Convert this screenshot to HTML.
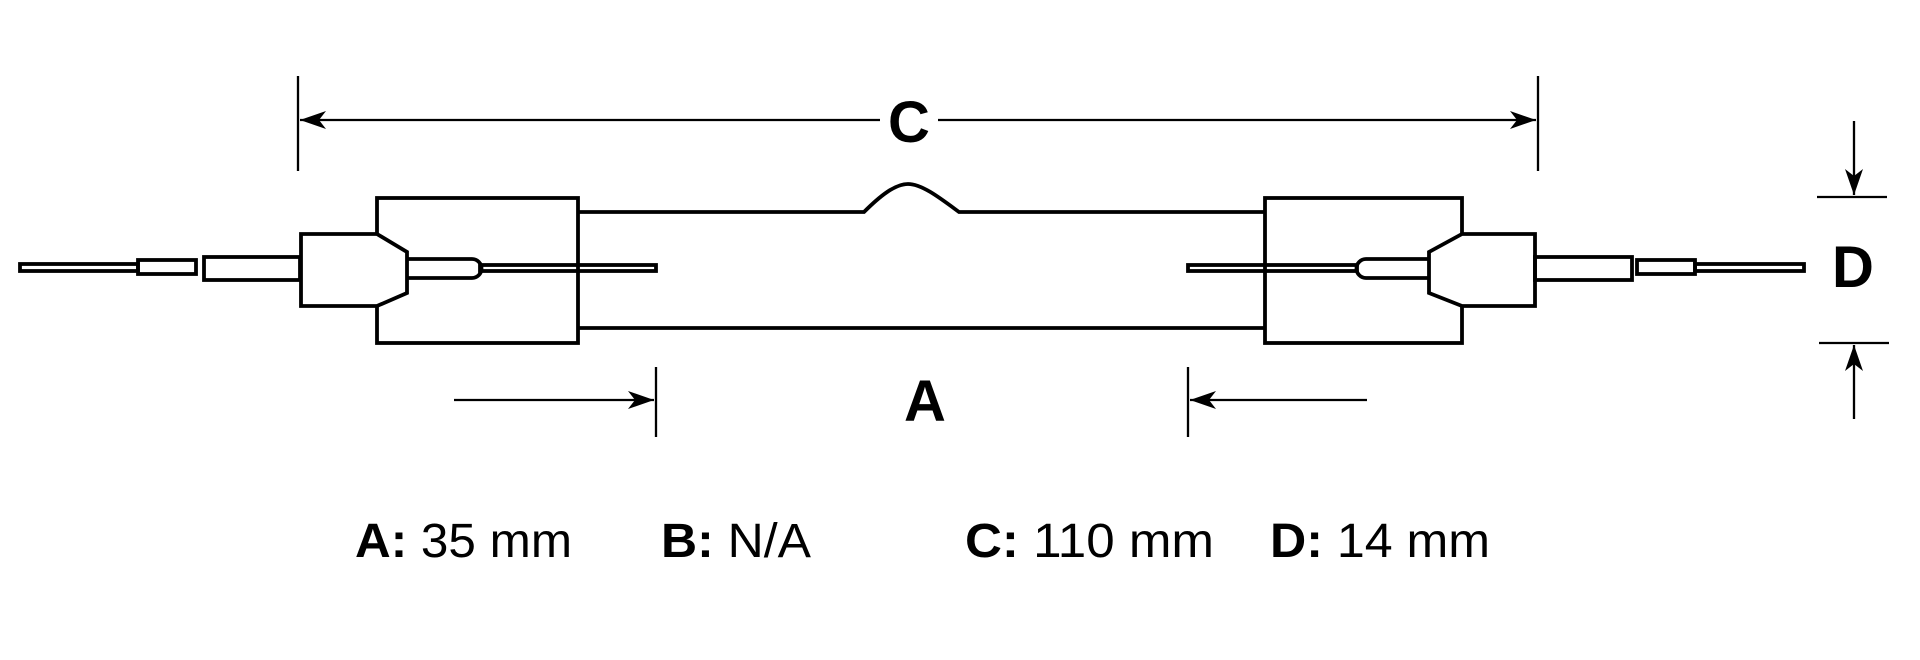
<!DOCTYPE html>
<html><head><meta charset="utf-8"><style>
html,body{margin:0;padding:0;background:#fff;}
svg{display:block}
</style></head><body>
<svg width="1920" height="660" viewBox="0 0 1920 660" xmlns="http://www.w3.org/2000/svg">
<defs>
<marker id="ar" viewBox="0 0 26 18" refX="26" refY="9" markerWidth="26" markerHeight="18" markerUnits="userSpaceOnUse" orient="auto">
<path d="M0,0 L26,9 L0,18 L7,9 Z" fill="#000"/>
</marker>
</defs>
<g fill="none" stroke="#000" stroke-width="3.8" stroke-linejoin="miter">
<rect x="20" y="264" width="118" height="7"/>
<rect x="138" y="260" width="58" height="14"/>
<rect x="204" y="257" width="96" height="23"/>
<rect x="377" y="198" width="201" height="145"/>
<path d="M301,234 L377,234 L407,252 L407,293 L377,306 L301,306 Z" fill="#fff"/>
<path d="M407,259 L472,259 A9.5,9.5 0 0 1 472,278 L407,278"/>
<rect x="480" y="265" width="176" height="6"/>
<path d="M578,212 L864,212 C880,196 895,184 908,184 C922,184 940,198 959,212 L1265,212"/>
<path d="M578,328 L1265,328"/>
<rect x="1265" y="198" width="197" height="145"/>
<path d="M1535,234 L1462,234 L1429,252 L1429,293 L1462,306 L1535,306 Z" fill="#fff"/>
<path d="M1429,259 L1366,259 A9.5,9.5 0 0 0 1366,278 L1429,278"/>
<rect x="1188" y="265" width="169" height="6"/>
<rect x="1535" y="257" width="97" height="23"/>
<rect x="1637" y="260" width="58" height="14"/>
<rect x="1695" y="264" width="109" height="7"/>
</g>
<g stroke="#000" stroke-width="2.3" fill="none">
<line x1="298" y1="76" x2="298" y2="171"/>
<line x1="1538" y1="76" x2="1538" y2="171"/>
<line x1="880" y1="120" x2="300" y2="120" marker-end="url(#ar)"/>
<line x1="938" y1="120" x2="1536" y2="120" marker-end="url(#ar)"/>
<line x1="656" y1="367" x2="656" y2="437"/>
<line x1="1188" y1="367" x2="1188" y2="437"/>
<line x1="454" y1="400" x2="654" y2="400" marker-end="url(#ar)"/>
<line x1="1367" y1="400" x2="1190" y2="400" marker-end="url(#ar)"/>
<line x1="1817" y1="197" x2="1887" y2="197"/>
<line x1="1819" y1="343" x2="1889" y2="343"/>
<line x1="1854" y1="121" x2="1854" y2="195" marker-end="url(#ar)"/>
<line x1="1854" y1="419" x2="1854" y2="345" marker-end="url(#ar)"/>
</g>
<g font-family="Liberation Sans, sans-serif" font-weight="bold" font-size="58" fill="#000" text-anchor="middle">
<text x="909" y="142">C</text>
<text x="925" y="421">A</text>
<text x="1853" y="287">D</text>
</g>
<g font-family="Liberation Sans, sans-serif" font-size="48" fill="#000">
<text x="355" y="557" textLength="217" lengthAdjust="spacingAndGlyphs"><tspan font-weight="bold">A:</tspan> 35 mm</text>
<text x="661" y="557" textLength="150" lengthAdjust="spacingAndGlyphs"><tspan font-weight="bold">B:</tspan> N/A</text>
<text x="965" y="557" textLength="249" lengthAdjust="spacingAndGlyphs"><tspan font-weight="bold">C:</tspan> 110 mm</text>
<text x="1270" y="557" textLength="220" lengthAdjust="spacingAndGlyphs"><tspan font-weight="bold">D:</tspan> 14 mm</text>
</g>
</svg>
</body></html>
